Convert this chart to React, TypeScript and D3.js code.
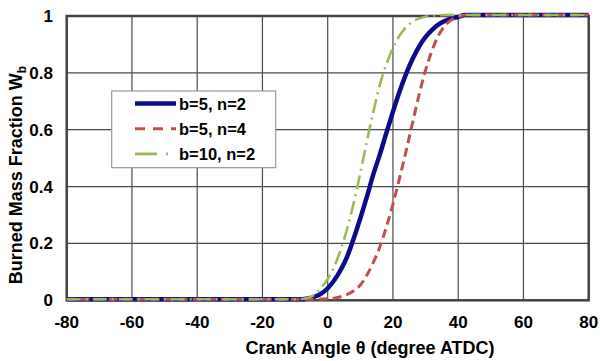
import React, { useEffect, useRef } from 'react';
import * as d3 from 'd3';

// crank angle (deg ATDC) shared by all three curves
const angles = [-80, -10, -8, -6, -4, -2, 0, 2, 4, 6, 8, 10, 12, 14, 16, 18, 20, 22, 24, 26, 28, 30, 32, 34, 36, 38, 40, 42, 80];

const b5n2 = [0, 0, 0, 0.003, 0.009, 0.02, 0.039, 0.067, 0.104, 0.151, 0.215, 0.285, 0.36, 0.44, 0.51, 0.586, 0.66, 0.73, 0.792, 0.845, 0.889, 0.923, 0.948, 0.967, 0.98, 0.988, 0.993, 1, 1];
const b5n4 = [0, 0, 0, 0, 0, 0.001, 0.002, 0.004, 0.009, 0.017, 0.03, 0.05, 0.085, 0.13, 0.185, 0.255, 0.335, 0.425, 0.52, 0.62, 0.719, 0.806, 0.876, 0.929, 0.963, 0.983, 0.993, 1, 1];
const b10n2 = [0, 0, 0.001, 0.005, 0.017, 0.04, 0.072, 0.115, 0.175, 0.25, 0.34, 0.445, 0.555, 0.66, 0.755, 0.827, 0.885, 0.927, 0.957, 0.976, 0.988, 0.994, 0.997, 0.999, 1, 1, 1, 1, 1];

const seriesNames = ['b=5, n=2', 'b=5, n=4', 'b=10, n=2'];
const xTicks = [-80, -60, -40, -20, 0, 20, 40, 60, 80];
const yTicks = [0, 0.2, 0.4, 0.6, 0.8, 1];

const App = () => {
  const ref = useRef<SVGSVGElement>(null);

  useEffect(() => {
    const svg = d3.select(ref.current);
    svg.selectAll('*').remove();

    const x = d3.scaleLinear().domain([-80, 80]).range([66.7, 588.7]);
    const y = d3.scaleLinear().domain([0, 1]).range([300.3, 16]);
    const font = 'Arial, "Liberation Sans", sans-serif';

    // grid
    const grid = svg.append('g').attr('stroke', '#4a4a4a').attr('stroke-width', 1.2);
    grid.selectAll('line.v').data(xTicks).join('line')
      .attr('x1', d => x(d)).attr('x2', d => x(d))
      .attr('y1', y(0)).attr('y2', y(1));
    grid.selectAll('line.h').data(yTicks).join('line')
      .attr('x1', x(-80)).attr('x2', x(80))
      .attr('y1', d => y(d)).attr('y2', d => y(d));

    // plot border
    svg.append('rect')
      .attr('x', x(-80)).attr('y', y(1))
      .attr('width', x(80) - x(-80)).attr('height', y(0) - y(1))
      .attr('fill', 'none').attr('stroke', '#444').attr('stroke-width', 2.5);

    // curves
    const styles = [
      { data: b5n2, color: '#0c0c8a', width: 4.5, dash: 'none' },
      { data: b5n4, color: '#c0504d', width: 3, dash: '9,5' },
      { data: b10n2, color: '#9bbb59', width: 2.6, dash: '14,5,2,5' },
    ];
    const line = d3.line<number>()
      .x((_, i) => x(angles[i]))
      .y(d => y(d) - 1)
      .curve(d3.curveMonotoneX);
    styles.forEach(s => {
      svg.append('path')
        .datum(s.data)
        .attr('fill', 'none')
        .attr('stroke', s.color)
        .attr('stroke-width', s.width)
        .attr('stroke-dasharray', s.dash)
        .attr('d', line);
    });

    // tick labels
    svg.append('g').selectAll('text').data(xTicks).join('text')
      .attr('x', d => x(d)).attr('y', 328)
      .attr('text-anchor', 'middle')
      .attr('font-family', font).attr('font-weight', 'bold').attr('font-size', 17)
      .text(d => String(d));
    svg.append('g').selectAll('text').data(yTicks).join('text')
      .attr('x', 53).attr('y', d => y(d) + 6)
      .attr('text-anchor', 'end')
      .attr('font-family', font).attr('font-weight', 'bold').attr('font-size', 17)
      .text(d => String(d));

    // axis titles
    svg.append('text')
      .attr('x', 370).attr('y', 354)
      .attr('text-anchor', 'middle')
      .attr('font-family', font).attr('font-weight', 'bold').attr('font-size', 18)
      .text('Crank Angle θ (degree ATDC)');
    const yl = svg.append('text')
      .attr('transform', 'translate(22,175) rotate(-90)')
      .attr('text-anchor', 'middle')
      .attr('font-family', font).attr('font-weight', 'bold').attr('font-size', 18);
    yl.append('tspan').text('Burned Mass Fraction W');
    yl.append('tspan').attr('font-size', 12).attr('dy', 4).text('b');

    // legend
    const lg = svg.append('g');
    lg.append('rect')
      .attr('x', 111.7).attr('y', 91).attr('width', 164).attr('height', 76.7)
      .attr('fill', '#fff').attr('stroke', '#999').attr('stroke-width', 1.2);
    styles.forEach((s, i) => {
      const ly = 103.5 + i * 25.2;
      lg.append('line')
        .attr('x1', 135).attr('x2', 176).attr('y1', ly).attr('y2', ly)
        .attr('stroke', s.color).attr('stroke-width', s.width)
        .attr('stroke-dasharray', i === 1 ? '10,8' : i === 2 ? '22,9,2,9' : 'none');
      lg.append('text')
        .attr('x', 179).attr('y', ly + 6)
        .attr('font-family', font).attr('font-weight', 'bold').attr('font-size', 16.5)
        .text(seriesNames[i]);
    });
  }, []);

  return (
    <svg ref={ref} width={600} height={361}
      style={{ position: 'absolute', left: 0, top: 0, background: '#fff' }} />
  );
};

export default App;
